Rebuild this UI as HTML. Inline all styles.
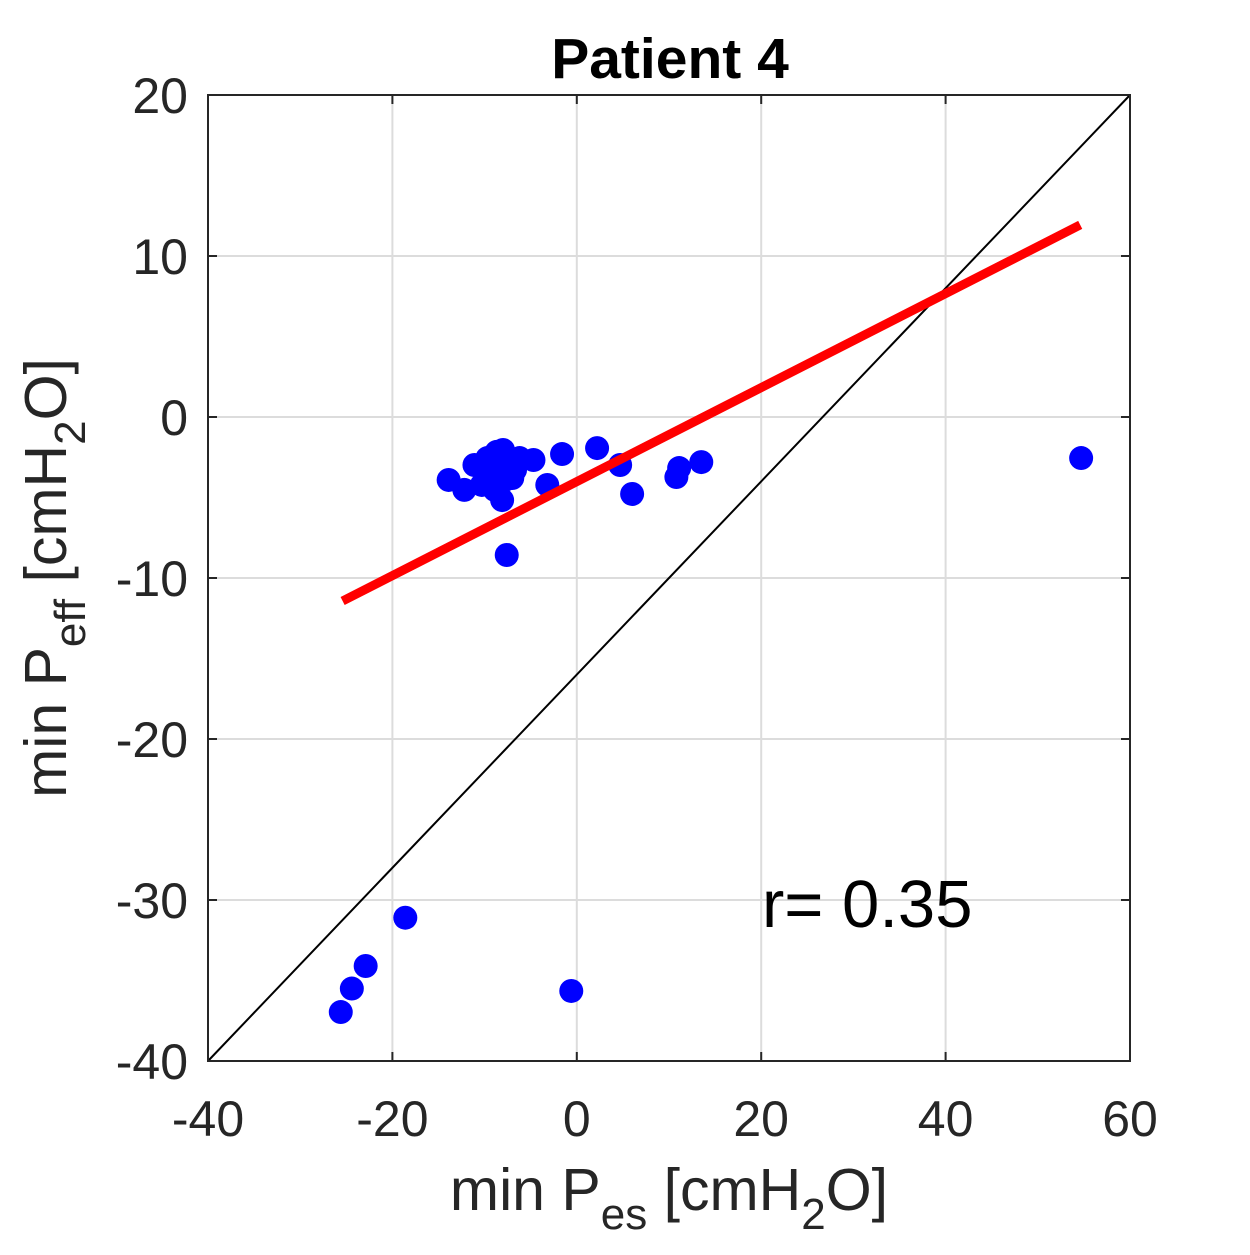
<!DOCTYPE html>
<html><head><meta charset="utf-8"><style>
html,body{margin:0;padding:0;background:#fff;}
svg text{font-family:"Liberation Sans",Arial,sans-serif;fill:#262626;}
</style></head><body>
<svg id="chart" width="1250" height="1250" viewBox="0 0 1250 1250" xmlns="http://www.w3.org/2000/svg"></svg>
<script>
const xTicks=[-40,-20,0,20,40,60];
const yTicks=[20,10,0,-10,-20,-30,-40];
const ptX=[-25.6,-24.4,-22.9,-18.6,-0.6,54.7,-7.6,-13.9,-12.2,-11.1,-9.7,-8.7,-8.0,-7.2,-6.2,-4.7,-9.4,-8.3,-7.8,-8.1,-7.0,-10.3,-3.2,-1.6,2.2,4.7,6.0,10.8,11.1,13.5,-6.7,-8.9];
const ptY=[-36.96,-35.5,-34.1,-31.1,-35.65,-2.55,-8.57,-3.91,-4.53,-2.98,-2.55,-2.17,-2.05,-2.67,-2.55,-2.67,-3.29,-3.6,-3.91,-5.16,-3.79,-4.22,-4.22,-2.3,-1.93,-2.98,-4.78,-3.73,-3.17,-2.8,-3.29,-4.53];
const fitX=[-25.4,54.6];
const fitY=[-11.43,11.93];
const diagX=[-40,60];
const diagY=[-40,20];
const X0=208,X1=1130,Y0=95,Y1=1061;
const sx=v=>X0+(v+40)/100*(X1-X0);
const sy=v=>Y1-(v+40)/60*(Y1-Y0);
const svg=document.getElementById('chart');
const NS='http://www.w3.org/2000/svg';
function mk(t,a,p){const e=document.createElementNS(NS,t);for(const k in a)e.setAttribute(k,a[k]);(p||svg).appendChild(e);return e;}
xTicks.forEach(v=>{
const g=mk('line',{x1:sx(v),x2:sx(v),y1:Y0,y2:Y1,stroke:'#dcdcdc','stroke-width':2});


const t=mk('text',{x:sx(v),y:1136,'text-anchor':'middle','font-size':50});
t.textContent=v;


mk('line',{x1:sx(v),x2:sx(v),y1:Y1,y2:Y1-9,stroke:'#262626','stroke-width':2});
mk('line',{x1:sx(v),x2:sx(v),y1:Y0,y2:Y0+9,stroke:'#262626','stroke-width':2});
});
yTicks.forEach(v=>{
const g=mk('line',{x1:X0,x2:X1,y1:sy(v),y2:sy(v),stroke:'#dcdcdc','stroke-width':2});


const t=mk('text',{x:188,y:sy(v)+18,'text-anchor':'end','font-size':50});
t.textContent=v;


mk('line',{x1:X0,x2:X0+9,y1:sy(v),y2:sy(v),stroke:'#262626','stroke-width':2});
mk('line',{x1:X1,x2:X1-9,y1:sy(v),y2:sy(v),stroke:'#262626','stroke-width':2});
});
const d=mk('line',{x1:sx(diagX[0]),y1:sy(diagY[0]),x2:sx(diagX[1]),y2:sy(diagY[1]),stroke:'#000','stroke-width':2});


ptX.forEach((v,i)=>{
const c=mk('circle',{cx:sx(v),cy:sy(ptY[i]),r:12,fill:'#0000ff'});


});
const f=mk('line',{x1:sx(fitX[0]),y1:sy(fitY[0]),x2:sx(fitX[1]),y2:sy(fitY[1]),stroke:'#ff0000','stroke-width':9});


const fr=mk('rect',{x:X0,y:Y0,width:X1-X0,height:Y1-Y0,fill:'none',stroke:'#262626','stroke-width':2});


</script>
<svg style="position:absolute;left:0;top:0" width="1250" height="1250" xmlns="http://www.w3.org/2000/svg">
<text x="670" y="78" text-anchor="middle" font-size="57" font-weight="bold" style="fill:#000">Patient 4</text>
<text x="762" y="927" font-size="67" style="fill:#000">r= 0.35</text>
<text x="669" y="1210" text-anchor="middle" font-size="59">min P<tspan font-size="44" dy="19">es</tspan><tspan dy="-19"> [cmH</tspan><tspan font-size="44" dy="19">2</tspan><tspan dy="-19">O]</tspan></text>
<text transform="translate(66,578) rotate(-90)" text-anchor="middle" font-size="59">min P<tspan font-size="44" dy="19">eff</tspan><tspan dy="-19"> [cmH</tspan><tspan font-size="44" dy="19">2</tspan><tspan dy="-19">O]</tspan></text>
</svg>
</body></html>
